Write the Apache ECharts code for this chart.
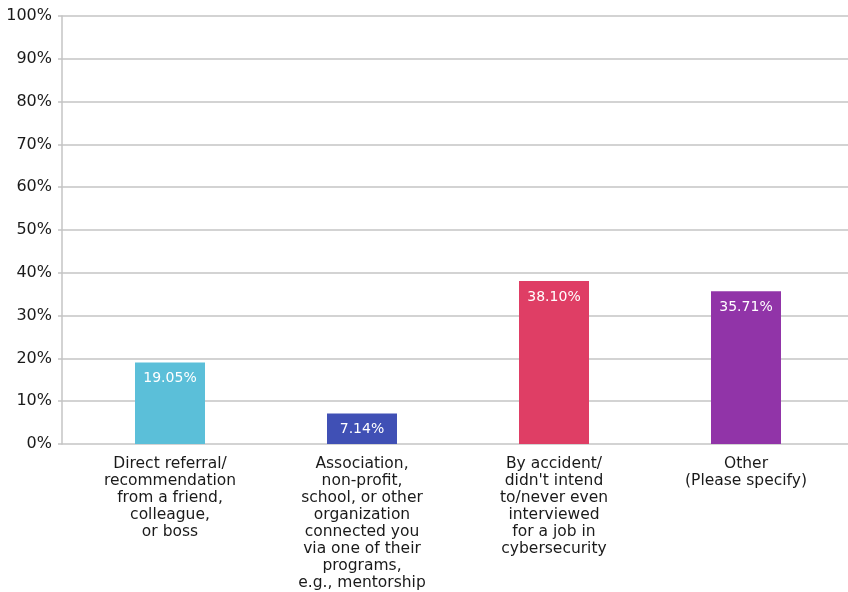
<!DOCTYPE html>
<html><head><meta charset="utf-8">
<script src="https://cdn.jsdelivr.net/npm/echarts@6/dist/echarts.min.js"></script>
<style>html,body{margin:0;padding:0;background:#fff}#c{width:848px;height:592px}</style>
</head><body><div id="c"></div>
<script>
const categories = [
  "Direct referral/\nrecommendation\nfrom a friend,\ncolleague,\nor boss",
  "Association,\nnon-profit,\nschool, or other\norganization\nconnected you\nvia one of their\nprograms,\ne.g., mentorship",
  "By accident/\ndidn't intend\nto/never even\ninterviewed\nfor a job in\ncybersecurity",
  "Other\n(Please specify)"
];
const values = [19.05, 7.14, 38.10, 35.71];
const barColors = ["#5bbfd9", "#4050b5", "#df3e65", "#9134a8"];
const yTicks = [0, 10, 20, 30, 40, 50, 60, 70, 80, 90, 100];

const font = "'DejaVu Sans', sans-serif";
const chart = echarts.init(document.getElementById('c'), null, {renderer: 'canvas'});
chart.setOption({
  animation: false,
  grid: [
    {left: 62, right: 0, top: 16, bottom: 148},
    {left: 74, right: 6, top: 16, bottom: 148}
  ],
  xAxis: [
    {gridIndex: 0, type: 'category', data: categories, show: false},
    {gridIndex: 1, type: 'category', data: categories,
     axisLine: {show: false}, axisTick: {show: false},
     axisLabel: {interval: 0, margin: 11, fontFamily: font, fontSize: 15.5, color: '#1a1a1a', lineHeight: 17}}
  ],
  yAxis: [
    {gridIndex: 0, type: 'value', min: yTicks[0], max: yTicks[yTicks.length-1], interval: 10,
     axisLine: {show: true, lineStyle: {color: '#c4c4c4', width: 1.5}},
     axisTick: {show: true, length: 4, lineStyle: {color: '#c4c4c4', width: 1.5}},
     splitLine: {show: true, lineStyle: {color: '#c4c4c4', width: 1.5}},
     axisLabel: {margin: 10, fontFamily: font, fontSize: 16, color: '#1a1a1a', formatter: v => v + '%'}},
    {gridIndex: 1, type: 'value', min: 0, max: 100, show: false}
  ],
  series: [{
    type: 'bar', xAxisIndex: 1, yAxisIndex: 1, barWidth: 70,
    data: values.map((v, i) => ({value: v, itemStyle: {color: barColors[i]}})),
    label: {show: true, position: 'insideTop', distance: 9, color: '#fff', fontFamily: font, fontSize: 14,
      formatter: p => p.value.toFixed(2) + '%'}
  }]
});
</script></body></html>
